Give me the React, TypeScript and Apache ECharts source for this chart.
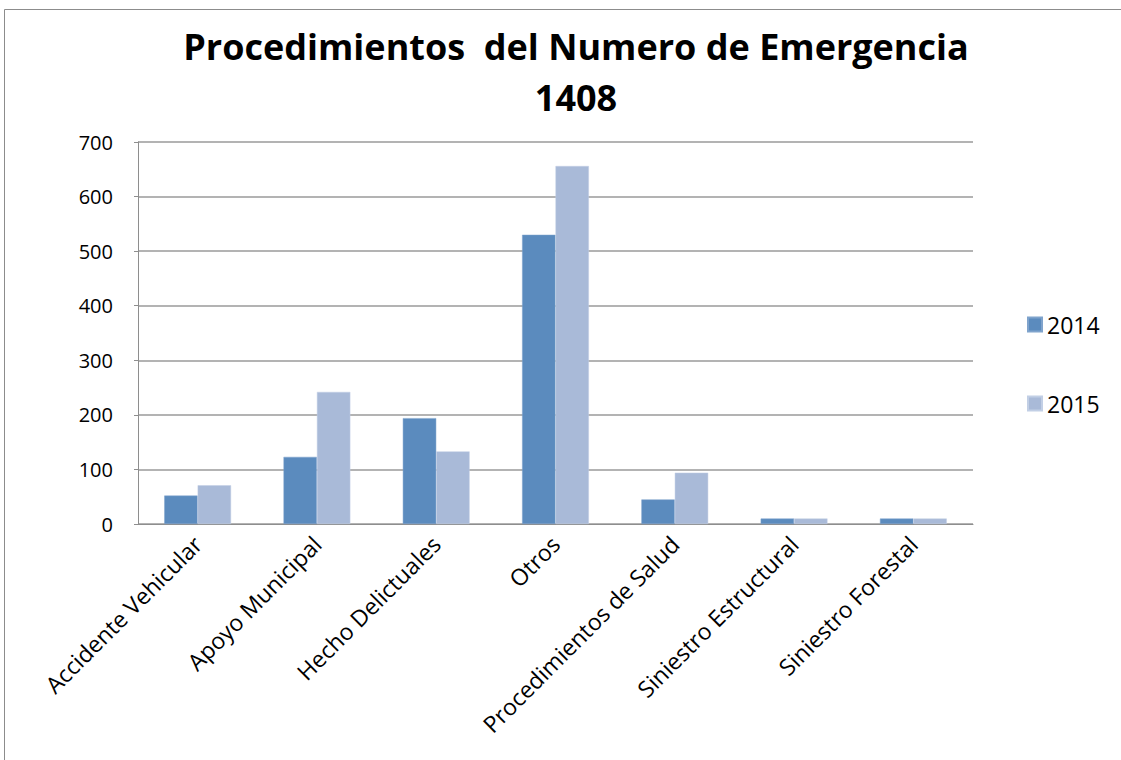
import React, { useEffect, useRef } from "react";
import * as echarts from "echarts";

const categories = [
  "Accidente Vehicular",
  "Apoyo Municipal",
  "Hecho Delictuales",
  "Otros",
  "Procedimientos de Salud",
  "Siniestro Estructural",
  "Siniestro Forestal",
];
const values2014 = [52, 123, 194, 530, 45, 10, 10];
const values2015 = [71, 242, 133, 656, 94, 10, 10];
const seriesNames = ["2014", "2015"];
const titleLines = ["Procedimientos  del Numero de Emergencia", "1408"];

const FONT = "'Open Sans', 'Noto Sans', sans-serif";

export default function App() {
  const ref = useRef<HTMLDivElement>(null);
  useEffect(() => {
    if (!ref.current) return;
    const chart = echarts.init(ref.current, null, { renderer: "svg" });
    chart.setOption({
      animation: false,
      backgroundColor: "#ffffff",
      textStyle: { fontFamily: FONT },
      graphic: [
        {
          type: "rect",
          shape: { x: 4.5, y: 9.5, width: 1200, height: 800 },
          style: { fill: "none", stroke: "#8c8c8c", lineWidth: 1 },
          silent: true,
        },
      ],
      title: {
        text: titleLines.join("\n"),
        left: 571,
        textAlign: "center",
        top: 16,
        textStyle: {
          fontFamily: FONT,
          fontWeight: "bold",
          fontSize: 36,
          lineHeight: 51,
          color: "#000000",
        },
      },
      legend: {
        orient: "vertical",
        left: 1022,
        top: 308,
        itemWidth: 14,
        itemHeight: 14,
        itemGap: 56,
        icon: "rect",
        textStyle: { fontFamily: FONT, fontSize: 23, color: "#000000" },
        data: seriesNames,
      },
      grid: { left: 138, right: 148, top: 142, bottom: 236 },
      xAxis: {
        type: "category",
        data: categories,
        axisLine: { lineStyle: { color: "#8e8e8e", width: 1 } },
        axisTick: { show: false },
        axisLabel: {
          rotate: 45,
          interval: 0,
          margin: 16,
          fontFamily: FONT,
          fontSize: 23,
          color: "#000000",
        },
      },
      yAxis: {
        type: "value",
        min: 0,
        max: 700,
        interval: 100,
        axisLine: { show: true, lineStyle: { color: "#8e8e8e", width: 1 } },
        axisTick: { show: true, length: 4, lineStyle: { color: "#8e8e8e" } },
        splitLine: { lineStyle: { color: "#9a9a9a", width: 1.5 } },
        axisLabel: {
          margin: 25,
          fontFamily: FONT,
          fontSize: 20,
          color: "#000000",
        },
      },
      series: [
        {
          name: seriesNames[0],
          type: "bar",
          data: values2014,
          barGap: "0%",
          barCategoryGap: "44%",
          itemStyle: { color: "#5b8bbe", borderColor: "#7fa3cc", borderWidth: 0.5 },
        },
        {
          name: seriesNames[1],
          type: "bar",
          data: values2015,
          barGap: "0%",
          barCategoryGap: "44%",
          itemStyle: { color: "#a9bad8", borderColor: "#c2cfe5", borderWidth: 0.5 },
        },
      ],
    });
    return () => chart.dispose();
  }, []);
  return (
    <div
      ref={ref}
      style={{ position: "absolute", left: 0, top: 0, width: 1121, height: 760 }}
    />
  );
}
